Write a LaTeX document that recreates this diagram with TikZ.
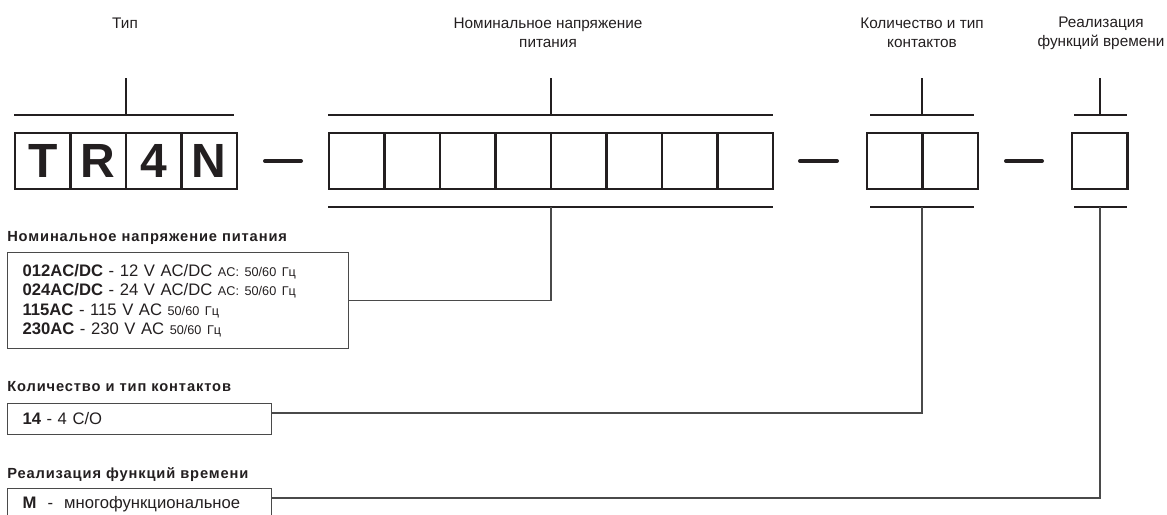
\documentclass[tikz,border=0pt]{standalone}
\usepackage{fontspec}
\setmainfont{Liberation Sans}
\definecolor{ink}{HTML}{231F20}
\definecolor{wirec}{HTML}{4A4A4A}
\begin{document}
\begin{tikzpicture}[x=0.75pt,y=-0.75pt,
  cell/.style={draw=ink,line width=2.2pt,minimum width=41.6pt,minimum height=42pt,inner sep=0pt,
    font=\fontsize{36}{36}\selectfont\bfseries,text=ink},
  brk/.style={draw=ink,line width=1pt},
  dashmark/.style={draw=ink,line width=3pt,line cap=round},
  wire/.style={draw=wirec,line width=0.8pt},
  txtbox/.style={draw=wirec,line width=0.8pt,anchor=north west,inner ysep=0pt,inner xsep=11.25pt,
    align=left,text=ink,font=\fontsize{12.5}{14.6}\selectfont},
  toplabel/.style={font=\fontsize{11.5}{14.2}\selectfont,align=center,text=ink,inner sep=0pt},
  title/.style={font=\fontsize{11}{13}\selectfont\bfseries\addfontfeature{LetterSpace=6},anchor=west,inner sep=0pt,text=ink}]
\newcommand{\smtxt}[1]{{\fontsize{9.5}{10}\selectfont #1}}
\useasboundingbox (0,0) rectangle (1167,514);
% ---- cells
\node[cell] (t1) at (42.75,161) {T};
\node[cell] (t2) at (98.25,161) {R};
\node[cell] (t3) at (153.75,161) {4};
\node[cell] (t4) at (209.25,161) {N};
\node[cell] (v1) at (356.75,161) {};
\node[cell] (v2) at (412.25,161) {};
\node[cell] (v3) at (467.75,161) {};
\node[cell] (v4) at (523.25,161) {};
\node[cell] (v5) at (578.75,161) {};
\node[cell] (v6) at (634.25,161) {};
\node[cell] (v7) at (689.75,161) {};
\node[cell] (v8) at (745.25,161) {};
\node[cell] (c1) at (894.75,161) {};
\node[cell] (c2) at (950.25,161) {};
\node[cell] (f1) at (1099.75,161) {};
% ---- dashes
\draw[dashmark] (265,161) -- (301,161);
\draw[dashmark] (800,161) -- (837,161);
\draw[dashmark] (1006,161) -- (1042,161);
% ---- top labels
\node[toplabel] (lt) at (125,23) {Тип};
\node[toplabel] (lv) at (548,33) {Номинальное напряжение\\питания};
\node[toplabel] (lc) at (922,33) {Количество и тип\\контактов};
\node[toplabel] (lf) at (1101,33) {Реализация\\функций времени};
% ---- top brackets
\draw[brk] (14,115) -- (234,115) (126,115) -- (126,78);
\draw[brk] (328,115) -- (773,115) (551,115) -- (551,78);
\draw[brk] (870,115) -- (974,115) (922,115) -- (922,78);
\draw[brk] (1074,115) -- (1127,115) (1100,115) -- (1100,78);
% ---- bottom brackets
\draw[brk] (328,207) -- (773,207);
\draw[brk] (870,207) -- (974,207);
\draw[brk] (1074,207) -- (1127,207);
\coordinate (vdrop) at (551,207);
\coordinate (cdrop) at (922,207);
\coordinate (fdrop) at (1100,207);
\coordinate (cline) at (922,413);
\coordinate (fline) at (1100,498);
% ---- titles
\node[title] (tv) at (7,238) {Номинальное напряжение питания};
\node[title] (tc) at (7,387) {Количество и тип контактов};
\node[title] (tf) at (7,475) {Реализация функций времени};
% ---- text boxes
\node[txtbox,minimum width=255.75pt,minimum height=72pt,text width=233.25pt] (vbox) at (7,252)
 {\textbf{012AC/DC} - 12 V AC/DC \smtxt{AC: 50/60 Гц}\\
  \textbf{024AC/DC} - 24 V AC/DC \smtxt{AC: 50/60 Гц}\\
  \textbf{115AC} - 115 V AC \smtxt{50/60 Гц}\\
  \textbf{230AC} - 230 V AC \smtxt{50/60 Гц}};
\node[txtbox,minimum width=198pt,minimum height=23.25pt,text width=175.5pt] (cbox) at (7,403)
 {\textbf{14} - 4 C/O};
\node[txtbox,minimum width=198pt,minimum height=23.25pt,text width=175.5pt] (fbox) at (7,488)
 {\textbf{M} \ - \ многофункциональное};
% ---- connectors
\draw[wire] (vbox.east) -| (vdrop);
\draw[wire] (cbox.east |- cline) -| (cdrop);
\draw[wire] (fbox.east |- fline) -| (fdrop);
\end{tikzpicture}
\end{document}
